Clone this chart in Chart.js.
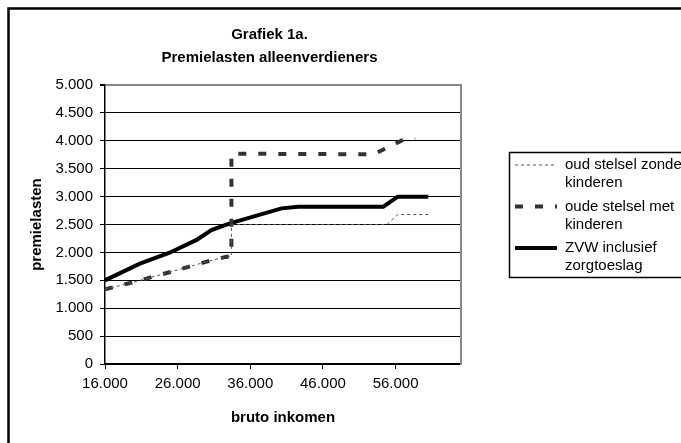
<!DOCTYPE html>
<html>
<head>
<meta charset="utf-8">
<title>Grafiek 1a</title>
<script src="https://cdn.jsdelivr.net/npm/chart.js@4/dist/chart.umd.min.js"></script>
<style>
  body { margin: 0; background: #fff; }
  canvas { display: block; }
</style>
</head>
<body>
<canvas id="chart" width="681" height="443"></canvas>
<script>
// bruto inkomen (x) and premielasten (y) per series
const zonderInkomen = [16000, 20000, 25000, 27600, 30000, 32600, 33400, 33400, 54800, 56300, 60500];
const zonderLasten = [1340, 1470, 1650, 1745, 1835, 1920, 1935, 2500, 2500, 2680, 2680];
const metInkomen = [16000, 20000, 25000, 27600, 30000, 32600, 33400, 33400, 53000, 57200, 58700];
const metLasten = [1340, 1470, 1650, 1745, 1835, 1920, 1935, 3770, 3760, 4030, 4030];
const zvwInkomen = [16000, 20800, 24900, 28600, 30650, 33200, 40300, 42600, 54300, 56300, 60500];
const zvwLasten = [1500, 1800, 1995, 2225, 2400, 2520, 2790, 2820, 2820, 3000, 3000];

const seriesNames = [
    ['oud stelsel zonder', 'kinderen'],
    ['oude stelsel met', 'kinderen'],
    ['ZVW inclusief', 'zorgtoeslag']
];
const xTicks = [16000, 26000, 36000, 46000, 56000];

const toPoints = (xs, ys) => xs.map((x, i) => ({ x: x, y: ys[i] }));
// Dutch thousands separator: 5000 -> "5.000"
const formatNumber = v => String(v).replace(/\B(?=(\d{3})+(?!\d))/g, '.');

const FONT = "'Liberation Sans', Arial, sans-serif";
Chart.defaults.font.family = FONT;
Chart.defaults.font.size = 15;
Chart.defaults.color = '#000';

// outer frame + the boxed legend on the right
const frameAndLegend = {
    id: 'frameAndLegend',
    afterDraw(chart) {
        const ctx = chart.ctx;
        ctx.save();
        ctx.strokeStyle = '#000';
        ctx.lineWidth = 2.5;
        ctx.strokeRect(8.5, 8.5, 720, 480);

        ctx.lineWidth = 1.5;
        ctx.strokeRect(509.5, 152.5, 220, 125);

        chart.data.datasets.forEach((ds, i) => {
            const y = 165 + i * 41.5;
            ctx.beginPath();
            ctx.strokeStyle = ds.borderColor;
            ctx.lineWidth = ds.borderWidth;
            ctx.setLineDash(ds.borderDash || []);
            ctx.moveTo(515, y);
            ctx.lineTo(557, y);
            ctx.stroke();
            ctx.setLineDash([]);

            ctx.fillStyle = '#000';
            ctx.font = '15px ' + FONT;
            ctx.textBaseline = 'middle';
            seriesNames[i].forEach((line, j) => ctx.fillText(line, 565, y + j * 18));
        });
        ctx.restore();
    }
};

new Chart(document.getElementById('chart'), {
    type: 'line',
    data: {
        datasets: [
            {
                label: seriesNames[0].join(' '),
                data: toPoints(zonderInkomen, zonderLasten),
                borderColor: '#555',
                borderWidth: 1,
                borderDash: [3, 3]
            },
            {
                label: seriesNames[1].join(' '),
                data: toPoints(metInkomen, metLasten),
                borderColor: '#333',
                borderWidth: 4,
                borderDash: [8, 12]
            },
            {
                label: seriesNames[2].join(' '),
                data: toPoints(zvwInkomen, zvwLasten),
                borderColor: '#000',
                borderWidth: 4
            }
        ]
    },
    options: {
        responsive: false,
        animation: false,
        elements: {
            point: { radius: 0 },
            line: { tension: 0, borderCapStyle: 'butt' }
        },
        layout: { padding: { left: 0, right: 142, top: 0, bottom: 0 } },
        plugins: {
            legend: { display: false },
            tooltip: { enabled: false },
            title: {
                display: true,
                text: ['Grafiek 1a.', 'Premielasten alleenverdieners'],
                color: '#000',
                font: { size: 15, weight: 'bold', lineHeight: 1.57 },
                padding: { top: 23, bottom: 15 }
            }
        },
        scales: {
            x: {
                type: 'linear',
                min: 16000,
                max: 65000,
                afterBuildTicks: scale => { scale.ticks = xTicks.map(v => ({ value: v })); },
                afterFit: scale => { scale.height = 79; },
                grid: { drawOnChartArea: false, tickLength: 5, tickColor: '#000' },
                border: { color: '#000', width: 1.5 },
                ticks: { padding: 6, maxRotation: 0, autoSkip: false, callback: formatNumber },
                title: {
                    display: true,
                    text: 'bruto inkomen',
                    font: { weight: 'bold' },
                    padding: { top: 0, bottom: 16 }
                }
            },
            y: {
                min: 0,
                max: 5000,
                afterFit: scale => { scale.width = 105; },
                ticks: { stepSize: 500, padding: 7, callback: formatNumber },
                grid: {
                    color: c => (c.tick && c.tick.value === 5000 ? '#888' : '#000'),
                    lineWidth: c => (c.tick && c.tick.value === 5000 ? 2 : 1),
                    tickLength: 5,
                    tickColor: '#000'
                },
                border: { color: '#000', width: 1.5 },
                title: {
                    display: true,
                    text: 'premielasten',
                    font: { weight: 'bold' },
                    padding: { top: 28, bottom: 0 }
                }
            },
            y2: {
                position: 'right',
                min: 0,
                max: 5000,
                afterFit: scale => { scale.width = 78; },
                ticks: { display: false },
                grid: { display: false },
                border: { color: '#888', width: 2 }
            }
        }
    },
    plugins: [frameAndLegend]
});
</script>
</body>
</html>
